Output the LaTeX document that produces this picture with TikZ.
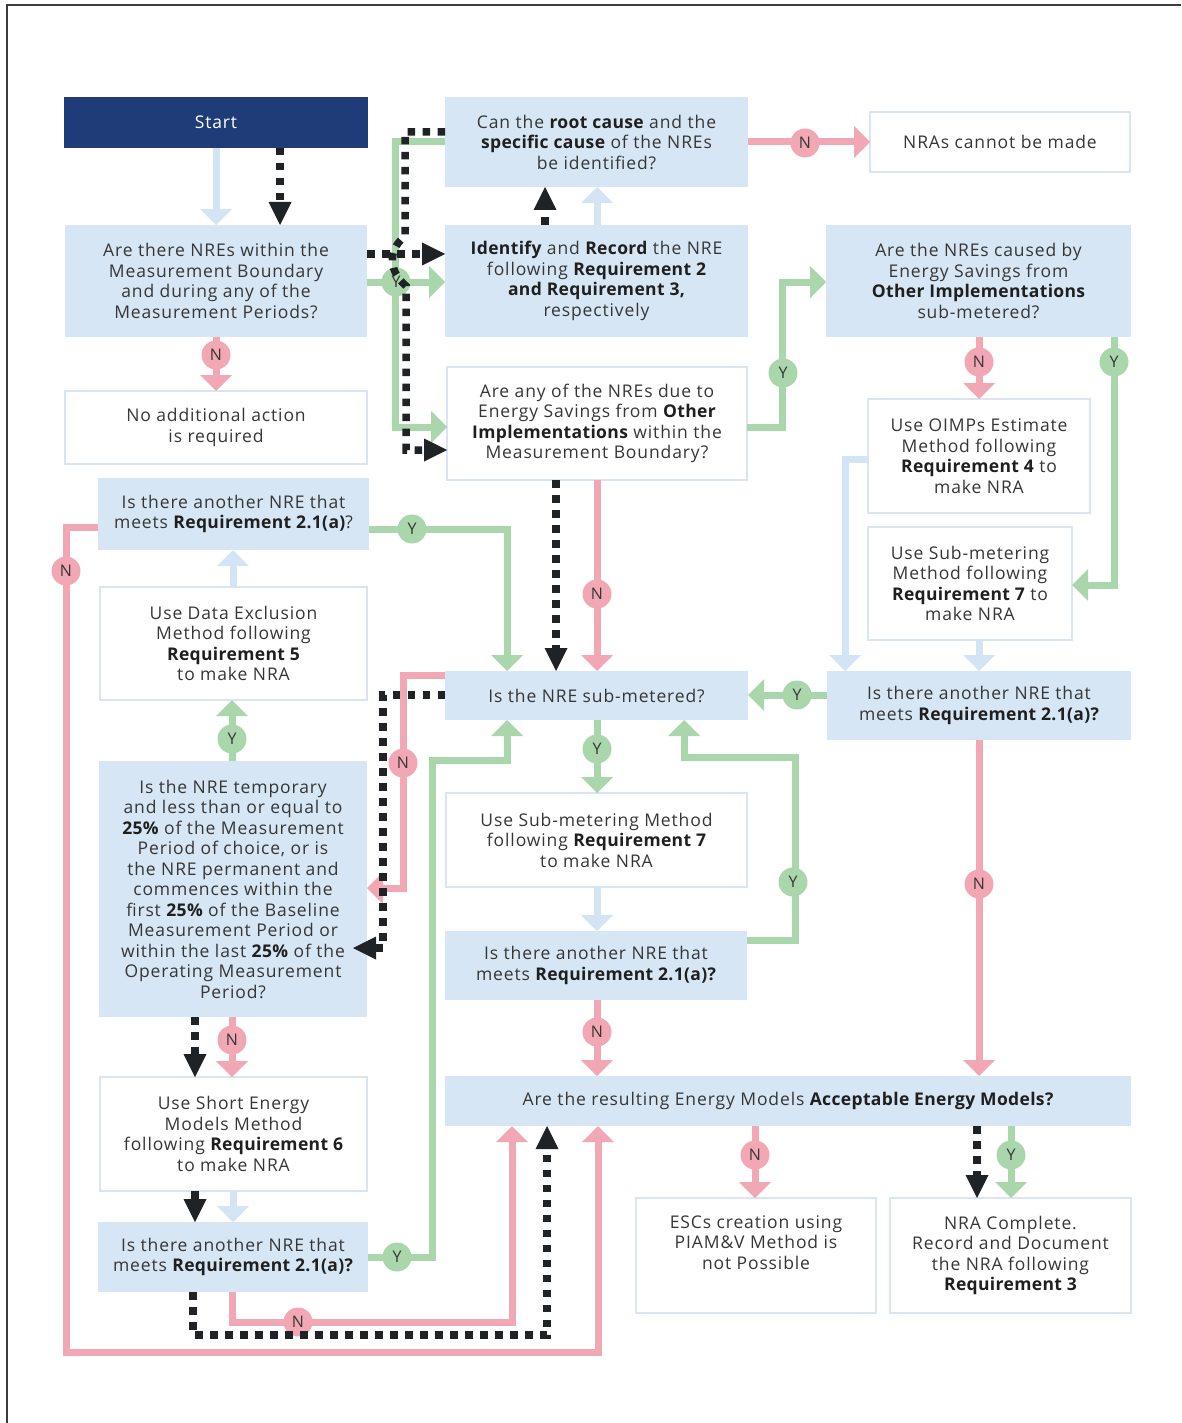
\documentclass[tikz,border=0pt]{standalone}
\usepackage{fontspec}
\setmainfont{Open Sans}[LetterSpace=5.0, BoldFeatures={LetterSpace=2.0}]
\usetikzlibrary{arrows.meta,calc}
\definecolor{boxblue}{HTML}{D6E6F5}
\definecolor{navy}{HTML}{1F3B78}
\definecolor{pinkc}{HTML}{F2A7B4}
\definecolor{greenc}{HTML}{A9D6AA}
\definecolor{arrowblue}{HTML}{D3E5F5}
\definecolor{edgeblue}{HTML}{D9E6F2}
\definecolor{txt}{HTML}{363636}
\definecolor{dotc}{HTML}{202326}
\definecolor{framec}{HTML}{3C3C3C}
\newcommand{\bb}[1]{{\bfseries\color{black!88}#1}}
\tikzset{
  bluebox/.style={fill=boxblue, draw=none, inner sep=0pt, outer sep=0pt, align=center, text=txt, anchor=north west},
  whitebox/.style={bluebox, fill=white, draw=edgeblue, line width=1.5pt},
  startbox/.style={bluebox, fill=navy, text=white},
  lblue/.style={draw=arrowblue, line width=7pt, -{Triangle[width=32pt,length=16pt,line width=0pt]}},
  lpink/.style={draw=pinkc, line width=7pt, -{Triangle[width=32pt,length=16pt,line width=0pt]}},
  lgreen/.style={draw=greenc, line width=7pt, -{Triangle[width=32pt,length=16pt,line width=0pt]}},
  ldot/.style={draw=dotc, line width=7.5pt, dash pattern=on 7.5pt off 7.5pt, -{Triangle[width=23pt,length=23pt,line width=0pt]}},
  cpink/.style={circle, fill=pinkc, minimum size=29pt, inner sep=0pt, text=txt, font=\fontsize{16}{16}\selectfont},
  cgreen/.style={cpink, fill=greenc},
}
\begin{document}
\begin{tikzpicture}[x=1pt, y=-1pt, font=\fontsize{17.5}{20.5}\selectfont]
\useasboundingbox (0,0) rectangle (1181,1423);
\fill[white] (0,0) rectangle (1181,1423);
% frame
\draw[framec, line width=2pt] (6,5) -- (1181,5);
\draw[framec, line width=2pt] (7,5) -- (7,1423);

% boxes
\node[startbox, minimum width=304pt, minimum height=51pt] (start) at (64,97) {Start};
\node[bluebox, minimum width=302pt, minimum height=112pt] (q1) at (65,225) {Are there NREs within the\\Measurement Boundary\\and during any of the\\Measurement Periods?};
\node[whitebox, minimum width=302pt, minimum height=73pt] (noact) at (65,391) {No additional action\\is required};
\node[bluebox, minimum width=303pt, minimum height=90pt] (root) at (445,97) {Can the \bb{root cause} and the\\\bb{specific cause} of the NREs\\be identified?};
\node[whitebox, minimum width=260pt, minimum height=60pt] (nra) at (870,112) {NRAs cannot be made};
\node[bluebox, minimum width=303pt, minimum height=112pt] (ident) at (445,225) {\bb{Identify} and \bb{Record} the NRE\\following \bb{Requirement 2}\\\bb{and Requirement 3,}\\respectively};
\node[bluebox, minimum width=305pt, minimum height=112pt] (q7) at (826,225) {Are the NREs caused by\\Energy Savings from\\\bb{Other Implementations}\\sub-metered?};
\node[whitebox, minimum width=300pt, minimum height=113pt] (q8) at (447,367) {Are any of the NREs due to\\Energy Savings from \bb{Other}\\\bb{Implementations} within the\\Measurement Boundary?};
\node[whitebox, minimum width=222pt, minimum height=114pt] (oimp) at (868,399) {Use OIMPs Estimate\\Method following\\\bb{Requirement 4} to\\make NRA};
\node[whitebox, minimum width=204pt, minimum height=113pt] (subm7) at (868,527) {Use Sub-metering\\Method following\\\bb{Requirement 7} to\\make NRA};
\node[bluebox, minimum width=271pt, minimum height=72pt] (ano1) at (98,478) {Is there another NRE that\\meets \bb{Requirement 2.1(a)}?};
\node[whitebox, minimum width=267pt, minimum height=113pt] (dataex) at (100,587) {Use Data Exclusion\\Method following\\\bb{Requirement 5}\\to make NRA};
\node[bluebox, minimum width=303pt, minimum height=49pt] (subq) at (445,671) {Is the NRE sub-metered?};
\node[bluebox, minimum width=304pt, minimum height=69pt] (ano2) at (827,671) {Is there another NRE that\\meets \bb{Requirement 2.1(a)?}};
\node[bluebox, minimum width=268pt, minimum height=256pt] (temp) at (99,761) {Is the NRE temporary\\and less than or equal to\\\bb{25\%} of the Measurement\\Period of choice, or is\\the NRE permanent and\\commences within the\\first \bb{25\%} of the Baseline\\Measurement Period or\\within the last \bb{25\%} of the\\Operating Measurement\\Period?};
\node[whitebox, minimum width=301pt, minimum height=94pt] (usesub) at (446,793) {Use Sub-metering Method\\following \bb{Requirement 7}\\to make NRA};
\node[bluebox, minimum width=302pt, minimum height=69pt] (ano3) at (445,931) {Is there another NRE that\\meets \bb{Requirement 2.1(a)?}};
\node[whitebox, minimum width=267pt, minimum height=114pt] (shortm) at (100,1077) {Use Short Energy\\Models Method\\following \bb{Requirement 6}\\to make NRA};
\node[bluebox, minimum width=270pt, minimum height=70pt] (ano4) at (98,1222) {Is there another NRE that\\meets \bb{Requirement 2.1(a)?}};
\node[bluebox, minimum width=686pt, minimum height=50pt] (acc) at (445,1076) {Are the resulting Energy Models \bb{Acceptable Energy Models?}};
\node[whitebox, minimum width=240pt, minimum height=115pt] (esc) at (636,1198) {ESCs creation using\\PIAM\&V Method is\\not Possible\\\strut};
\node[whitebox, minimum width=241pt, minimum height=115pt] (nrac) at (890,1198) {NRA Complete.\\Record and Document\\the NRA following\\\bb{Requirement 3}};

% light blue connectors
\draw[lblue] (216,0 |- start.south) -- (216,0 |- q1.north);
\draw[lblue] (597,0 |- ident.north) -- (597,0 |- root.south);
\draw[lblue] (233,0 |- dataex.north) -- (233,0 |- ano1.south);
\draw[lblue] (597,0 |- usesub.south) -- (597,0 |- ano3.north);
\draw[lblue] (233,0 |- shortm.south) -- (233,0 |- ano4.north);
\draw[lblue] (979,0 |- subm7.south) -- (979,0 |- ano2.north);
\draw[lblue] (oimp.west |- 0,459) -- (845,459) -- (845,0 |- ano2.north);

% pink connectors
\draw[lpink] (root.east) -- (nra.west);
\draw[lpink] (216,0 |- q1.south) -- (216,0 |- noact.north);
\draw[lpink] (979,0 |- q7.south) -- (979,0 |- oimp.north);
\draw[lpink] (597,0 |- q8.south) -- (597,0 |- subq.north);
\draw[lpink] (subq.west |- 0,675) -- (403,675) -- (403,888) -- (temp.east |- 0,888);
\draw[lpink] (232,0 |- temp.south) -- (232,0 |- shortm.north);
\draw[lpink] (232,0 |- ano4.south) -- (232,1322) -- (512,1322) -- (512,0 |- acc.south);
\draw[lpink] (ano1.west |- 0,527) -- (66,527) -- (66,1352) -- (598,1352) -- (598,0 |- acc.south);
\draw[lpink] (597,0 |- ano3.south) -- (597,0 |- acc.north);
\draw[lpink] (979,0 |- ano2.south) -- (979,0 |- acc.north);
\draw[lpink] (755,0 |- acc.south) -- (755,0 |- esc.north);

% green connectors
\draw[lgreen] (q1.east |- 0,282) -- (ident.west |- 0,282);
\draw[lgreen] (root.west |- 0,142) -- (395,142) -- (395,427) -- (q8.west |- 0,427);
\draw[lgreen] (q8.east |- 0,427) -- (782,427) -- (782,282) -- (q7.west |- 0,282);
\draw[lgreen] (1114,0 |- q7.south) -- (1114,585) -- (subm7.east |- 0,585);
\draw[lgreen] (ano1.east |- 0,529) -- (507,529) -- (507,0 |- subq.north);
\draw[lgreen] (232,0 |- temp.north) -- (232,0 |- dataex.south);
\draw[lgreen] (597,0 |- subq.south) -- (597,0 |- usesub.north);
\draw[lgreen] (ano3.east |- 0,940) -- (795,940) -- (795,757) -- (684,757) -- (684,0 |- subq.south);
\draw[lgreen] (ano2.west |- 0,695) -- (subq.east |- 0,695);
\draw[lgreen] (ano4.east |- 0,1257) -- (432,1257) -- (432,760) -- (507,760) -- (507,0 |- subq.south);
\draw[lgreen] (1011,0 |- acc.south) -- (1011,0 |- nrac.north);

% label circles
\node[cpink] (cn1) at (805,143) {N};
\node[cpink] (cn2) at (216,355) {N};
\node[cpink] (cn3) at (979,362) {N};
\node[cpink] (cn4) at (597,594) {N};
\node[cpink] (cn5) at (403,763) {N};
\node[cpink] (cn6) at (232,1040) {N};
\node[cpink] (cn7) at (298,1322) {N};
\node[cpink] (cn8) at (66,571) {N};
\node[cpink] (cn9) at (597,1032) {N};
\node[cpink] (cn10) at (979,884) {N};
\node[cpink] (cn11) at (755,1155) {N};
\node[cgreen] (cy1) at (396,282) {Y};
\node[cgreen] (cy2) at (783,373) {Y};
\node[cgreen] (cy3) at (1114,362) {Y};
\node[cgreen] (cy4) at (412,529) {Y};
\node[cgreen] (cy5) at (232,739) {Y};
\node[cgreen] (cy6) at (597,749) {Y};
\node[cgreen] (cy7) at (793,882) {Y};
\node[cgreen] (cy8) at (797,695) {Y};
\node[cgreen] (cy9) at (397,1257) {Y};
\node[cgreen] (cy10) at (1011,1155) {Y};

% black dotted path
\draw[ldot] (280,0 |- start.south) -- (280,0 |- q1.north);
\draw[ldot] (q1.east |- 0,254) -- (ident.west |- 0,254);
\draw[ldot] (root.west |- 0,132) -- (405,132) -- (405,236) .. controls (386,252) and (390,272) .. (406,286) -- (406,450) -- (q8.west |- 0,450);
\draw[ldot] (545,0 |- ident.north) -- (545,0 |- root.south);
\draw[ldot] (556,0 |- q8.south) -- (556,0 |- subq.north);
\draw[ldot, shorten >=-14pt] (subq.west |- 0,695) -- (383,695) -- (383,948) -- (temp.east |- 0,948);
\draw[ldot] (195,0 |- temp.south) -- (195,0 |- shortm.north);
\draw[ldot] (195,0 |- shortm.south) -- (195,0 |- ano4.north);
\draw[ldot] (193,0 |- ano4.south) -- (193,1335) -- (547,1335) -- (547,0 |- acc.south);
\draw[ldot] (977,0 |- acc.south) -- (977,0 |- nrac.north);
\end{tikzpicture}
\end{document}
